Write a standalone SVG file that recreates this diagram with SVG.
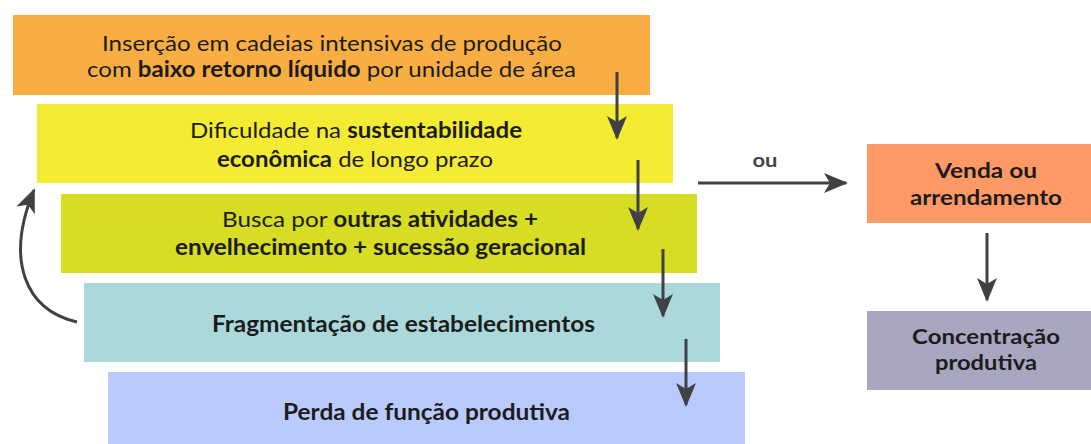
<svg xmlns="http://www.w3.org/2000/svg" width="1091" height="444" viewBox="0 0 1091 444">
<defs>
<style>
text{font-family:Lato,"Noto Sans",sans-serif;font-size:22px;fill:#1c1c1c;text-anchor:middle}
.b{font-weight:bold}
.r{font-size:21px;font-weight:bold}
.c{stroke:#404045;stroke-width:3;fill:none}
</style>
<marker id="ah" viewBox="0 0 24 20" refX="22" refY="10" markerWidth="24" markerHeight="20" markerUnits="userSpaceOnUse" orient="auto">
<path d="M0,0 L24,10 L0,20 L6,10 Z" fill="#404045"/>
</marker>
</defs>
<g id="n1"><rect x="13" y="15" width="637" height="80" fill="#F8AE42"/>
<text x="332" y="51" textLength="460" lengthAdjust="spacingAndGlyphs">Inserção em cadeias intensivas de produção</text>
<text x="331.5" y="77" textLength="489" lengthAdjust="spacingAndGlyphs">com <tspan class="b">baixo retorno líquido</tspan> por unidade de área</text></g>
<g id="n2"><rect x="37" y="104" width="636" height="79" fill="#F4EB33"/>
<text x="356" y="138" textLength="332" lengthAdjust="spacingAndGlyphs">Dificuldade na <tspan class="b">sustentabilidade</tspan></text>
<text x="355" y="167" textLength="276" lengthAdjust="spacingAndGlyphs"><tspan class="b">econômica</tspan> de longo prazo</text></g>
<g id="n3"><rect x="61" y="194" width="636" height="79" fill="#D6DD22"/>
<text x="380" y="227" textLength="316" lengthAdjust="spacingAndGlyphs">Busca por <tspan class="b">outras atividades +</tspan></text>
<text x="380.5" y="255" class="b" textLength="411" lengthAdjust="spacingAndGlyphs">envelhecimento + sucessão geracional</text></g>
<g id="n4"><rect x="84" y="283" width="636" height="79" fill="#ABD8DA"/>
<text x="403.5" y="332" class="b" textLength="383" lengthAdjust="spacingAndGlyphs">Fragmentação de estabelecimentos</text></g>
<g id="n5"><rect x="108" y="372" width="637" height="72" fill="#BACAFC"/>
<text x="426.5" y="420" class="b" textLength="287" lengthAdjust="spacingAndGlyphs">Perda de função produtiva</text></g>
<g id="n6"><rect x="867" y="144" width="224" height="79" fill="#FF9966"/>
<text x="986" y="178" class="r" textLength="102" lengthAdjust="spacingAndGlyphs">Venda ou</text>
<text x="986" y="205" class="r" textLength="152" lengthAdjust="spacingAndGlyphs">arrendamento</text></g>
<g id="n7"><rect x="867" y="311" width="224" height="79" fill="#A9A6C0"/>
<text x="986" y="344" class="r" textLength="148" lengthAdjust="spacingAndGlyphs">Concentração</text>
<text x="986" y="370" class="r" textLength="102" lengthAdjust="spacingAndGlyphs">produtiva</text></g>
<g id="connectors">
<path class="c" d="M617,72 V138" marker-end="url(#ah)"/>
<path class="c" d="M638,160 V229" marker-end="url(#ah)"/>
<path class="c" d="M663,249 V316" marker-end="url(#ah)"/>
<path class="c" d="M686,339 V405" marker-end="url(#ah)"/>
<path class="c" d="M698,183 H846" marker-end="url(#ah)"/>
<path class="c" d="M987,233 V300" marker-end="url(#ah)"/>
<path class="c" d="M77,322 C25,310 5,260 34,190" marker-end="url(#ah)"/>
<text x="765" y="167" class="b" style="fill:#444;font-size:19px" textLength="25" lengthAdjust="spacingAndGlyphs">ou</text>
</g>
</svg>
